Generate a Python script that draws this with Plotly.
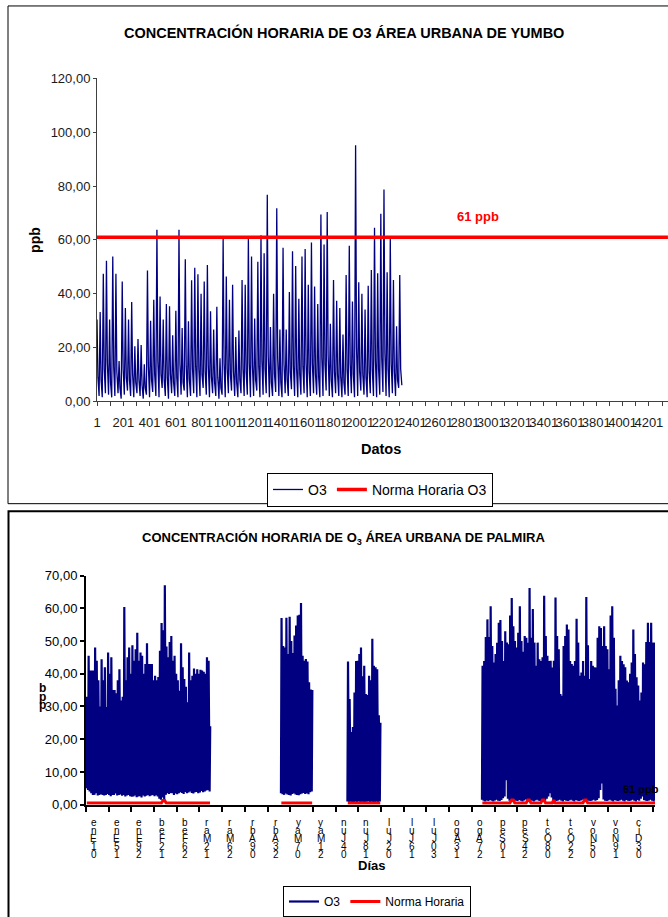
import plotly.graph_objects as go

W, H = 668, 917
FONT = "Liberation Sans, Arial, sans-serif"
NAVY = "#000080"
RED = "#FF0000"

# ------------------------------------------------------------------ Yumbo (top)
YUMBO_TITLE = "CONCENTRACIÓN HORARIA DE O3 ÁREA URBANA DE YUMBO"
# daily peak, evening level and trough (ppb)
YUMBO_DAILY_MAX = [
    30.4, 33.2, 47.4, 52.3, 30.4, 53.8, 47.4, 15, 44.5, 34.7,
    30.4, 36.9, 20.5, 23.2, 20.9, 13.8, 48.6, 30, 37.8, 63.8,
    39, 30.4, 36.2, 35.3, 24.6, 33.7, 63.8, 27.3, 52.8, 29.8,
    45, 49.7, 47.2, 40, 44.5, 50.7, 33.5, 26.7, 35.2, 16,
    60.5, 46.4, 37.8, 43.3, 23.9, 26.3, 45.1, 43.3, 60.5, 53.8,
    30.8, 51.9, 61.7, 55, 76.8, 27.6, 40, 71.8, 26.7, 57.1,
    26.7, 40.6, 55.8, 50.3, 38.1, 53.8, 56.6, 43.3, 59, 42.7,
    36.2, 69.4, 58.3, 70.4, 28.8, 45.1, 37.4, 34.7, 24.8, 47,
    57.8, 37.1, 95.2, 44.3, 40, 34.1, 43, 48.8, 64.5, 47.6,
    69.7, 78.7, 48, 60.5, 45.1, 27.9, 47]
YUMBO_DAILY_EVENING = [
    9, 8, 12, 14, 7, 13, 11, 5, 12, 9,
    8, 10, 7, 8, 6, 5, 13, 8, 10, 15,
    10, 8, 9, 10, 7, 9, 14, 7, 13, 8,
    12, 13, 12, 10, 11, 13, 9, 7, 9, 5,
    14, 12, 10, 11, 7, 8, 12, 11, 14, 13,
    8, 13, 15, 12, 17, 7, 10, 16, 7, 14,
    8, 11, 13, 12, 10, 13, 14, 11, 14, 10,
    9, 16, 14, 17, 8, 11, 10, 9, 7, 12,
    14, 10, 20, 11, 10, 9, 11, 12, 15, 12,
    16, 18, 12, 14, 11, 8, 12]
YUMBO_DAILY_MIN = [
    2, 1.5, 3, 2.5, 1.5, 2, 3, 1, 2.5, 4,
    2, 1.5, 3, 2, 1, 2.5, 1.5, 3.5, 2, 1.5,
    5, 2, 1, 3, 2, 1.5, 2.5, 4, 1.5, 2,
    3, 1.5, 2, 5, 2.5, 1.5, 3, 2, 1, 2.5,
    1.5, 3, 4, 2, 1.5, 3, 2, 2.5, 1.5, 2,
    4, 1.5, 2.5, 3, 1.5, 2, 3.5, 2, 1.5, 3,
    2, 4.5, 2, 1.5, 2.5, 3, 1.5, 2, 3, 2.5,
    1.5, 2, 4, 2, 1.5, 3, 2, 1.5, 2.5, 2,
    3, 1.5, 2, 4, 2.5, 1.5, 3, 2, 1.5, 2.5,
    3.5, 2, 1.5, 3, 2, 5, 6]
YUMBO_HOUR_OF_MAX, YUMBO_HOUR_OF_EVENING, YUMBO_HOUR_OF_MIN = 0, 7, 16
YUMBO_NORMA = 61
YUMBO_LAST_CATEGORY = 4346
YUMBO_X_TICK_LABELS = ["1", "201", "401", "601", "801", "1001", "1201", "1401",
                       "1601", "1801", "2001", "2201", "2401", "2601", "2801",
                       "3001", "3201", "3401", "3601", "3801", "4001", "4201"]
YUMBO_MINOR_TICK_STEP = 100

# ------------------------------------------------------------------ Palmira (bottom)
PALMIRA_TITLE = "CONCENTRACIÓN HORARIA DE O<sub>3</sub> ÁREA URBANA DE PALMIRA"
PALMIRA_SEGMENT_START_DAYS = [0, 120, 161, 244]
PALMIRA_SEG1_MAX = [
    33, 45.5, 41, 41, 41, 48, 44, 38, 30, 44.4,
    38, 42, 29.8, 46.5, 40, 45, 35, 35, 34, 38,
    41.4, 31.8, 33, 60.4, 38, 45, 48, 40, 48.7, 44,
    47.5, 52.5, 44, 46.5, 45.5, 40, 43, 49.3, 43, 43,
    43, 38, 39.4, 38, 39, 47, 55.5, 53.3, 67, 48.3,
    45, 49.7, 51.5, 44, 45.5, 40, 38, 34.8, 49.3, 42,
    38.4, 36, 31.3, 46.5, 38, 39.4, 41.6, 40, 41.4, 40,
    41.2, 41, 40.6, 40, 45, 44, 24]
PALMIRA_SEG1_MIN = [
    5, 4.5, 4, 3.5, 3, 3, 3.5, 2.8, 3, 3.2,
    3, 2.8, 3, 3.3, 3, 2.6, 3, 3, 3.4, 2.8,
    3, 3.1, 2.7, 3, 2.5, 2.8, 3, 2.6, 2.4, 2.5,
    2.8, 2.3, 2.5, 2.6, 2.2, 2.8, 2.5, 2.7, 3, 2.6,
    2.8, 3, 2.6, 2.9, 2.5, 1.8, 1.5, 2.2, 1.5, 3,
    3.5, 3.3, 3.6, 3.5, 3, 3.4, 3.2, 3.5, 3.8, 3.6,
    3.3, 3.9, 3.5, 3.7, 4, 3.6, 3.4, 3.8, 3.9, 3.5,
    3.7, 4.2, 3.8, 4, 4.3, 4.5, 4]
PALMIRA_SEG2_MAX = [57, 48.5, 48, 57.1, 46, 57.4, 50, 46.3, 51.7, 54.7,
                    57.8, 58, 61.6, 45.5, 44, 44.5, 43.7, 37.4, 35.2, 35]
PALMIRA_SEG2_MIN = [3.5, 3.2, 3, 3.4, 3.1, 3, 2.8, 3.3, 3.5, 3.1,
                    3, 2.9, 3.2, 3.4, 3.6, 3.3, 3.5, 3.2, 3.8, 4]
PALMIRA_SEG3_MAX = [43.7, 32.3, 22.2, 23.7, 34.3, 43.9, 44, 46, 48, 39.2,
                    42.4, 33.8, 33.5, 39.4, 38, 50.7, 42.4, 42, 41.4, 27.3, 25]
PALMIRA_SEG3_MIN = [1, 0.8, 0.9, 0.8, 0.7, 0.9, 0.8, 1, 0.8, 0.9,
                    0.7, 0.8, 0.9, 1, 0.8, 0.9, 0.8, 0.7, 0.9, 0.8, 1]
PALMIRA_SEG4_MAX = [
    42.4, 43.9, 51.2, 56.6, 51.2, 60.6, 48.5, 43.4, 46, 49.5,
    55.6, 56.4, 50, 43.9, 53, 49.5, 49, 57.8, 63.1, 54.5,
    50, 48, 52.5, 60.6, 50, 46.7, 51.5, 51, 49.5, 66.2,
    51, 59.8, 49.5, 42.4, 49.5, 44.4, 43.9, 45, 63.8, 51.5,
    45.5, 43.9, 44, 41.9, 44, 63.3, 51.5, 47.5, 33.8, 33.3,
    48.5, 51.5, 55, 53.5, 43.9, 43, 42.4, 43.9, 56.8, 49.5,
    39.4, 40.4, 43.9, 39.4, 63.4, 48.7, 38.4, 43.9, 42.4, 42,
    41.9, 51, 54.5, 54, 48.5, 54.5, 48.5, 47.5, 41.4, 57.8,
    60.6, 51, 35.4, 30.3, 38, 45.5, 43.9, 42.9, 42, 37.9,
    37.4, 40, 43.4, 53.5, 46, 38.9, 36.4, 31.8, 34.3, 43.4,
    42.9, 49.7, 55.6, 49.7, 55.6, 49.5, 49.5, 49.5]
PALMIRA_SEG4_MIN = [
    1.5, 1.2, 1, 1.3, 1.1, 1.4, 1.2, 1, 1.3, 1.5,
    1.2, 1.1, 1.4, 2, 2.5, 7.5, 1.8, 1.2, 1, 1.3,
    1.5, 1.2, 1.1, 1.4, 1.2, 1, 1.3, 1.6, 1.2, 1.1,
    1.4, 1.2, 1, 1.3, 1.5, 1.2, 1.1, 1.4, 1.2, 1.3,
    1.8, 2.5, 3.5, 2.2, 1.4, 1.2, 1.1, 1.3, 1.5, 1.2,
    1, 1.4, 1.2, 1.1, 1.3, 1.5, 1.2, 1, 1.4, 1.2,
    1.1, 1.3, 1.5, 1.2, 1, 1.4, 1.2, 1.1, 1.3, 1.5,
    1.2, 1.4, 2, 4.5, 6.5, 1.6, 1.2, 1.1, 1.3, 1.5,
    1.2, 1, 1.4, 1.2, 1.1, 1.3, 1.5, 1.2, 1, 1.4,
    1.2, 1.1, 1.3, 1.5, 1.2, 1, 1.4, 1.2, 1.8, 2.5,
    1.4, 1.2, 1.1, 1.3, 1.5, 1.2, 1, 1.4]
PALMIRA_HOUR_OF_MIN, PALMIRA_HOUR_OF_MAX = 6, 15
# "Norma Horaria" series: near-zero level with a few small bumps (day -> ppb)
PALMIRA_NORMA_LEVEL = 0.5
PALMIRA_NORMA_BUMPS = {47: 1.3, 48: 1.3, 262: 1.4, 263: 1.4, 272: 1.4, 273: 1.4,
                       281: 1.4, 282: 1.4, 288: 1.4, 307: 1.4, 308: 1.4}
PALMIRA_DATE_LABELS = ["01-Ene", "15-Ene", "29-Ene", "12-Feb", "26-Feb", "12-Mar",
                       "26-Mar", "09-Abr", "23-Abr", "07-May", "21-May", "04-Jun",
                       "18-Jun", "02-Jul", "16-Jul", "30-Jul", "13-Ago", "27-Ago",
                       "10-Sep", "24-Sep", "08-Oct", "22-Oct", "05-Nov", "19-Nov",
                       "03-Dic"]
PALMIRA_LABEL_STEP_DAYS = 14
PALMIRA_LAST_HOUR = 8424
HOURS_PER_DAY = 24


def px(x):
    return x / W


def py(y):
    return 1 - y / H


# ------------------------------------------------------------------ build series
y_x, y_y = [], []
for d, (mx, ev, mn) in enumerate(zip(YUMBO_DAILY_MAX, YUMBO_DAILY_EVENING, YUMBO_DAILY_MIN)):
    base = 1 + d * HOURS_PER_DAY
    y_x += [base + YUMBO_HOUR_OF_MAX, base + YUMBO_HOUR_OF_EVENING, base + YUMBO_HOUR_OF_MIN]
    y_y += [mx, ev, mn]

segments = [
    (PALMIRA_SEGMENT_START_DAYS[0], PALMIRA_SEG1_MIN, PALMIRA_SEG1_MAX),
    (PALMIRA_SEGMENT_START_DAYS[1], PALMIRA_SEG2_MIN, PALMIRA_SEG2_MAX),
    (PALMIRA_SEGMENT_START_DAYS[2], PALMIRA_SEG3_MIN, PALMIRA_SEG3_MAX),
    (PALMIRA_SEGMENT_START_DAYS[3], PALMIRA_SEG4_MIN, PALMIRA_SEG4_MAX),
]
p_x, p_y, n_x, n_y = [], [], [], []
for start, mins, maxs in segments:
    for i, (mn, mx) in enumerate(zip(mins, maxs)):
        d = start + i
        p_x += [d * HOURS_PER_DAY + PALMIRA_HOUR_OF_MIN, d * HOURS_PER_DAY + PALMIRA_HOUR_OF_MAX]
        p_y += [mn, mx]
        n_x.append(d * HOURS_PER_DAY + 12)
        n_y.append(PALMIRA_NORMA_BUMPS.get(d, PALMIRA_NORMA_LEVEL))
    p_x.append(None); p_y.append(None)
    n_x.append(None); n_y.append(None)

fig = go.Figure()
fig.add_trace(go.Scatter(x=y_x, y=y_y, mode="lines", name="O3",
                         line=dict(color=NAVY, width=1.3), xaxis="x", yaxis="y",
                         legend="legend"))
fig.add_trace(go.Scatter(x=[1, YUMBO_LAST_CATEGORY], y=[YUMBO_NORMA, YUMBO_NORMA],
                         mode="lines", name="Norma Horaria O3",
                         line=dict(color=RED, width=3.5), xaxis="x", yaxis="y",
                         legend="legend"))
fig.add_trace(go.Scatter(x=p_x, y=p_y, mode="lines", name="O3",
                         line=dict(color=NAVY, width=2.2), xaxis="x2", yaxis="y2",
                         legend="legend2", connectgaps=False))
fig.add_trace(go.Scatter(x=n_x, y=n_y, mode="lines", name="Norma Horaria",
                         line=dict(color=RED, width=3), xaxis="x2", yaxis="y2",
                         legend="legend2", connectgaps=False))

top_tickvals = [int(t) for t in YUMBO_X_TICK_LABELS]
bottom_tickvals = [k * PALMIRA_LABEL_STEP_DAYS * HOURS_PER_DAY
                   for k in range(len(PALMIRA_DATE_LABELS) + 1)]

AX_GREY = "#404040"
fig.update_layout(
    width=W, height=H, margin=dict(l=0, r=0, t=0, b=0),
    paper_bgcolor="white", plot_bgcolor="white",
    font=dict(family=FONT, color="black"),
    separators=",.",
    xaxis=dict(domain=[px(97), 1.0], range=[1, YUMBO_LAST_CATEGORY + 0.5],
               anchor="y", showline=True, linecolor=AX_GREY, linewidth=1,
               ticks="outside", ticklen=4, tickcolor=AX_GREY,
               tickmode="array", tickvals=top_tickvals, ticktext=YUMBO_X_TICK_LABELS,
               tickangle=0, tickfont=dict(size=13, color="#1a1a1a"),
               ticklabelstandoff=5,
               minor=dict(tickmode="linear", tick0=1, dtick=YUMBO_MINOR_TICK_STEP,
                          ticks="outside", ticklen=4, tickcolor=AX_GREY, showgrid=False),
               showgrid=False, zeroline=False, automargin=False),
    yaxis=dict(domain=[py(404), py(79)], range=[0, 120], anchor="x",
               tick0=0, dtick=20, tickformat=".2f",
               showline=True, linecolor=AX_GREY, linewidth=1,
               ticks="outside", ticklen=3, tickcolor=AX_GREY,
               tickfont=dict(size=13, color="#1a1a1a"),
               showgrid=False, zeroline=False, automargin=False),
    xaxis2=dict(domain=[px(86), px(655)], range=[0, PALMIRA_LAST_HOUR],
                anchor="y2", showline=True, linecolor="black", linewidth=2,
                ticks="outside", ticklen=5, tickwidth=1.5, tickcolor="black",
                tickmode="array", tickvals=bottom_tickvals, showticklabels=False,
                showgrid=False, zeroline=False, automargin=False),
    yaxis2=dict(domain=[py(810), py(579.3)], range=[0, 70], anchor="x2",
                tick0=0, dtick=10, tickformat=".2f",
                showline=True, linecolor="black", linewidth=2,
                ticks="outside", ticklen=4, tickwidth=1.5, tickcolor="black",
                tickfont=dict(size=13, color="black"),
                showgrid=False, zeroline=False, automargin=False),
    legend=dict(orientation="h", x=px(267), y=py(476), xanchor="left", yanchor="top",
                bgcolor="white", bordercolor="black", borderwidth=1,
                font=dict(size=14, family=FONT, color="black")),
    legend2=dict(orientation="h", x=px(283), y=py(892), xanchor="left", yanchor="top",
                 bgcolor="white", bordercolor="black", borderwidth=1,
                 font=dict(size=12, family=FONT, color="black")),
    showlegend=True,
)

# chart frames
fig.add_shape(type="rect", xref="paper", yref="paper",
              x0=px(8), x1=1.05, y0=py(507), y1=py(6),
              line=dict(color="black", width=1), fillcolor="rgba(0,0,0,0)", layer="below")
fig.add_shape(type="rect", xref="paper", yref="paper",
              x0=px(8.5), x1=1.05, y0=-0.05, y1=py(514.5),
              line=dict(color="black", width=2), fillcolor="rgba(0,0,0,0)", layer="below")

ann = []
ann.append(dict(text="<b>" + YUMBO_TITLE + "</b>", x=px(344), y=py(33),
                font=dict(size=14.5)))
ann.append(dict(text="<b>ppb</b>", x=px(35.5), y=py(242), textangle=-90,
                font=dict(size=14)))
ann.append(dict(text="<b>Datos</b>", x=px(381), y=py(452), font=dict(size=14.5)))
ann.append(dict(text="<b>" + str(YUMBO_NORMA) + " ppb</b>", x=px(477.5), y=py(218),
                font=dict(size=13, color=RED)))
ann.append(dict(text="<b>" + PALMIRA_TITLE + "</b>", x=px(343), y=py(542),
                font=dict(size=13)))
ann.append(dict(text="<b>Días</b>", x=px(372), y=py(871), font=dict(size=13)))
ann.append(dict(text="<b>" + str(YUMBO_NORMA) + " ppb</b>", x=px(641), y=py(794),
                font=dict(size=11, color="black")))
# stacked "ppb" axis title of the lower chart
for j, ch in enumerate(reversed("ppb")):
    ann.append(dict(text="<b>" + ch + "</b>", x=px(43), y=py(693 + 8.5 * j),
                    font=dict(size=12)))
# stacked date labels of the lower chart
for k, lab in enumerate(PALMIRA_DATE_LABELS):
    chars = [c for c in lab if c != "-"]
    for j, ch in enumerate(chars):  # j = 0 is the bottom character
        ann.append(dict(text=ch, x=bottom_tickvals[k], xref="x2", xshift=8,
                        y=py(860 - 8 * j), font=dict(size=10)))

for a in ann:
    a.setdefault("xref", "paper")
    a["yref"] = "paper"
    a["showarrow"] = False
    a["xanchor"] = "center"
    a["yanchor"] = "middle"
    a["font"].setdefault("family", FONT)
    a["font"].setdefault("color", "black")
fig.update_layout(annotations=ann)

fig.write_html("out.html", config={"displayModeBar": False},
               post_script="document.body.style.margin='0';document.body.style.padding='0';")
